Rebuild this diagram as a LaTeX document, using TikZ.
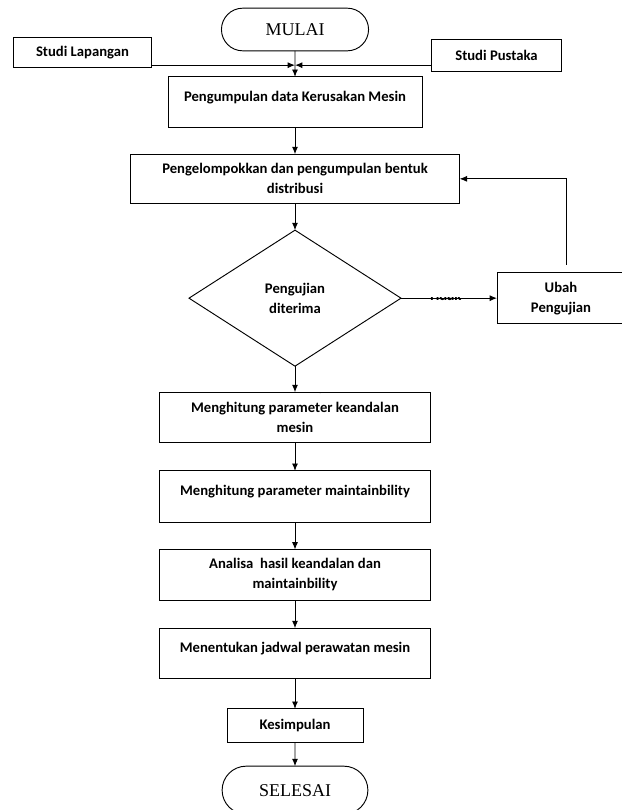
\documentclass[tikz,border=0pt]{standalone}
\usepackage{fontspec}
\setmainfont{Carlito}
\newfontfamily\judul{Liberation Serif}
\usepackage{tikz}
\usetikzlibrary{shapes,arrows,arrows.meta,positioning,calc}

\begin{document}
\begin{tikzpicture}[x=0.75pt,y=-0.75pt,every node/.style={outer sep=0pt},line width=0.7pt]
\tikzstyle{kotak}=[draw,align=center,font=\fontsize{11}{15}\selectfont\bfseries,
minimum width=203pt,minimum height=38pt,inner sep=2pt]
\tikzstyle{terminal}=[draw,rounded rectangle,minimum width=117pt,minimum height=32pt,
font=\judul\fontsize{13.5}{15}\selectfont]
\tikzstyle{keputusan}=[draw,diamond,align=center,font=\fontsize{11}{15}\selectfont\bfseries,
minimum width=159pt,minimum height=102pt,inner sep=0pt]
\tikzstyle{panah}=[-{Latex[length=5.5pt,width=4.5pt]}]
\tikzstyle{sisa}=[font=\fontsize{11}{13}\selectfont\bfseries,inner sep=0pt]

\useasboundingbox (0,0) rectangle (621,810);
%
\node (mulai) [terminal] at (295,29.5) {MULAI};
\node (lapangan) [kotak,minimum width=104pt,minimum height=22pt] at (82.5,52.5) {Studi Lapangan};
\node (pustaka) [kotak,minimum width=98pt,minimum height=24pt] at (496.5,55) {Studi Pustaka};
\node (kumpul) [kotak,below=19.5pt of mulai,minimum width=190.5pt]
{Pengumpulan data Kerusakan Mesin\\[-6pt]\mbox{}};
\node (kelompok) [kotak,below=20pt of kumpul,minimum width=247pt,minimum height=37pt]
{Pengelompokkan dan pengumpulan bentuk\\distribusi};
\node (uji) [keputusan,below=20pt of kelompok] {Pengujian\\diterima};
\node (ubah) [kotak,right=72pt of uji,minimum width=96pt] {Ubah\\Pengujian};
\node (hitung1) [kotak,below=19.5pt of uji] {Menghitung parameter keandalan\\mesin};
\node (hitung2) [kotak,below=21pt of hitung1,minimum height=39pt]
{Menghitung parameter maintainbility\\[-6pt]\mbox{}};
\node (analisa) [kotak,below=20pt of hitung2] {Analisa\ \ hasil keandalan dan\\maintainbility};
\node (jadwal) [kotak,below=21pt of analisa]
{Menentukan jadwal perawatan mesin\\[-6pt]\mbox{}};
\node (simpul) [kotak,below=22.5pt of jadwal,minimum width=102pt,minimum height=25pt] {Kesimpulan};
\node (selesai) [terminal,below=18pt of simpul,minimum width=116pt,minimum height=36pt] {SELESAI};
%
\coordinate (temu) at ([yshift=1.5pt]lapangan.south -| mulai.south);
\draw [panah] (mulai) -- (kumpul);
\draw [panah] (lapangan.east |- temu) -- (temu);
\draw [panah] (pustaka.west |- temu) -- (temu);
\draw [panah] (kumpul) -- (kelompok);
\draw [panah] (kelompok) -- (uji);
\draw [panah] (uji) -- (ubah);
\draw [panah] ([xshift=4pt,yshift=6pt]ubah.north) |- (kelompok.east);
\draw [panah] (uji) -- (hitung1);
\draw [panah] (hitung1) -- (hitung2);
\draw [panah] (hitung2) -- (analisa);
\draw [panah] (analisa) -- (jadwal);
\draw [panah] (jadwal) -- (simpul);
\draw [panah] (simpul) -- (selesai);
%
\begin{scope}
\clip (425,297) rectangle (465,304);
\node (tidak) [sisa] at (445,295) {Tidak};
\end{scope}
\begin{scope}
\clip (310,392) rectangle (326,397);
\node (ya) [sisa] at (318,389) {Ya};
\end{scope}
\end{tikzpicture}
\end{document}
